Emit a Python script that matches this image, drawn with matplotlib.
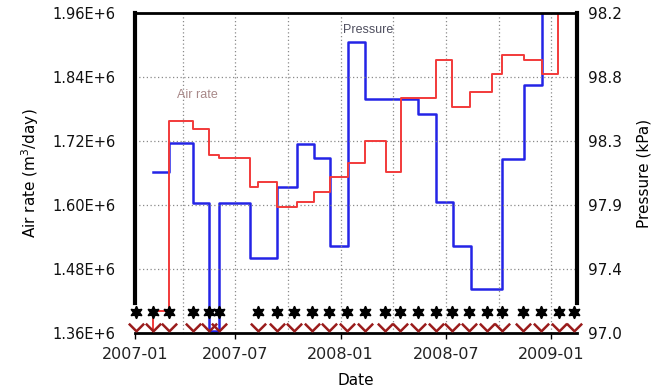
import matplotlib
matplotlib.use("Agg")
import matplotlib.pyplot as plt
from matplotlib.path import Path

# ---------------- data ----------------
# x positions are months since 2007-01-01
air_edges = [1.0, 1.29, 2.22, 3.57, 4.50, 5.07, 6.84, 7.29, 8.38, 9.52, 10.48, 11.40,
             12.42, 13.39, 14.59, 15.44, 17.44, 18.35, 19.37, 20.63, 21.20, 22.45,
             23.48, 24.39, 25.47]
air_rate = [1.33e6, 1.401e6, 1.7575e6, 1.7425e6, 1.694e6, 1.688e6, 1.634e6, 1.643e6,
            1.596e6, 1.606e6, 1.624e6, 1.6525e6, 1.679e6, 1.72e6, 1.662e6, 1.8006e6,
            1.872e6, 1.784e6, 1.812e6, 1.846e6, 1.881e6, 1.872e6, 1.846e6, 1.975e6]

pres_edges = [1.31, 2.22, 3.57, 4.50, 5.07, 6.84, 8.38, 9.52, 10.48, 11.40, 12.42,
              13.39, 16.41, 17.44, 18.40, 19.43, 21.20, 22.45, 23.48, 25.47, 26.0]
pressure = [98.132, 98.336, 97.914, 97.014, 97.914, 97.527, 98.027, 98.329, 98.230,
            97.612, 99.046, 98.645, 98.540, 97.921, 97.612, 97.309, 98.223, 98.744,
            99.40, 98.132]

event_months = [0.34, 1.31, 2.22, 3.59, 4.50, 5.07, 7.29, 8.38, 9.34, 10.37, 11.34,
                12.36, 13.39, 14.53, 15.38, 16.41, 17.44, 18.35, 19.32, 20.34, 21.20,
                22.39, 23.42, 24.44, 25.30]

x_tick_pos = [0.285, 6, 12, 18, 24]
x_tick_labels = ["2007-01", "2007-07", "2008-01", "2008-07", "2009-01"]
grid_months = [3, 6, 9, 12, 15, 18, 21, 24]

left_ticks = [1.36e6, 1.48e6, 1.60e6, 1.72e6, 1.84e6, 1.96e6]
left_tick_labels = ["1.36E+6", "1.48E+6", "1.60E+6", "1.72E+6", "1.84E+6", "1.96E+6"]
right_ticks = [97.0, 97.45, 97.9, 98.35, 98.8, 99.25]
right_tick_labels = ["97.0", "97.4", "97.9", "98.3", "98.8", "98.2"]

# ---------------- figure ----------------
fig = plt.figure(figsize=(6.66, 3.90), dpi=100)
ax = fig.add_axes([0.2027, 0.1462, 0.6637, 0.8205])
ax2 = ax.twinx()
ax.set_zorder(ax2.get_zorder() + 1)
ax.patch.set_visible(False)

xmin, xmax = 0.285, 25.47
ax.set_xlim(xmin, xmax)
ax.set_ylim(1.36e6, 1.96e6)
ax2.set_ylim(97.0, 99.25)

# grid
for m in grid_months:
    ax.axvline(m, color="#8a8a8a", lw=0.9, ls=(0, (1, 2)), zorder=0)
for v in left_ticks[1:-1]:
    ax.axhline(v, color="#8a8a8a", lw=0.9, ls=(0, (1, 2)), zorder=0)

# lines
ax2.step(pres_edges, pressure + [pressure[-1]], where="post", color="#2424e6", lw=1.8)
ax.step(air_edges, air_rate + [air_rate[-1]], where="post", color="#f23a3a", lw=1.4)

# event markers at the bottom
star_y = 1.399e6
chev_y = 1.371e6
ax.plot(event_months, [star_y] * len(event_months), ls="none", marker=(6, 1, 0),
        ms=9, color="black", clip_on=False, zorder=5)
chev = Path([(-1.0, 0.5), (0.0, -0.5), (1.0, 0.5)],
            [Path.MOVETO, Path.LINETO, Path.LINETO])
ax.plot(event_months, [chev_y] * len(event_months), ls="none", marker=chev,
        ms=11, mfc="none", mec="#9a1c1c", mew=1.8, clip_on=False, zorder=5)

# annotations
ax.text(3.82, 1.806e6, "Air rate", color="#a88888", fontsize=9,
        family="Liberation Sans", ha="center", va="center")
ax.text(13.56, 1.928e6, "Pressure", color="#505060", fontsize=9,
        family="Liberation Sans", ha="center", va="center")

# ticks
ax.set_xticks(x_tick_pos)
ax.set_xticklabels(x_tick_labels, fontsize=11.5, color="#222222")
ax.tick_params(axis="x", direction="out", length=4, width=1, pad=6)
ax.set_yticks(left_ticks)
ax.set_yticklabels(left_tick_labels, fontsize=10.5, color="#111111")
ax.tick_params(axis="y", length=0, pad=14)
ax2.set_yticks(right_ticks)
ax2.set_yticklabels(right_tick_labels, fontsize=11, color="#111111")
ax2.tick_params(axis="y", length=0, pad=8)

# labels
ax.set_ylabel("Air rate (m$^3$/day)", fontsize=11, labelpad=8)
ax2.set_ylabel("Pressure (kPa)", fontsize=11, labelpad=10)
ax.set_xlabel("Date", fontsize=11, labelpad=8)

# spines
for s in ax2.spines.values():
    s.set_visible(False)
ax.spines["left"].set_linewidth(3)
ax.spines["left"].set_bounds(1.416e6, 1.96e6)
ax.spines["right"].set_linewidth(3)
ax.spines["right"].set_bounds(1.416e6, 1.96e6)
ax.spines["top"].set_linewidth(2)
ax.spines["bottom"].set_linewidth(2)

fig.savefig("out.png", dpi=100)
